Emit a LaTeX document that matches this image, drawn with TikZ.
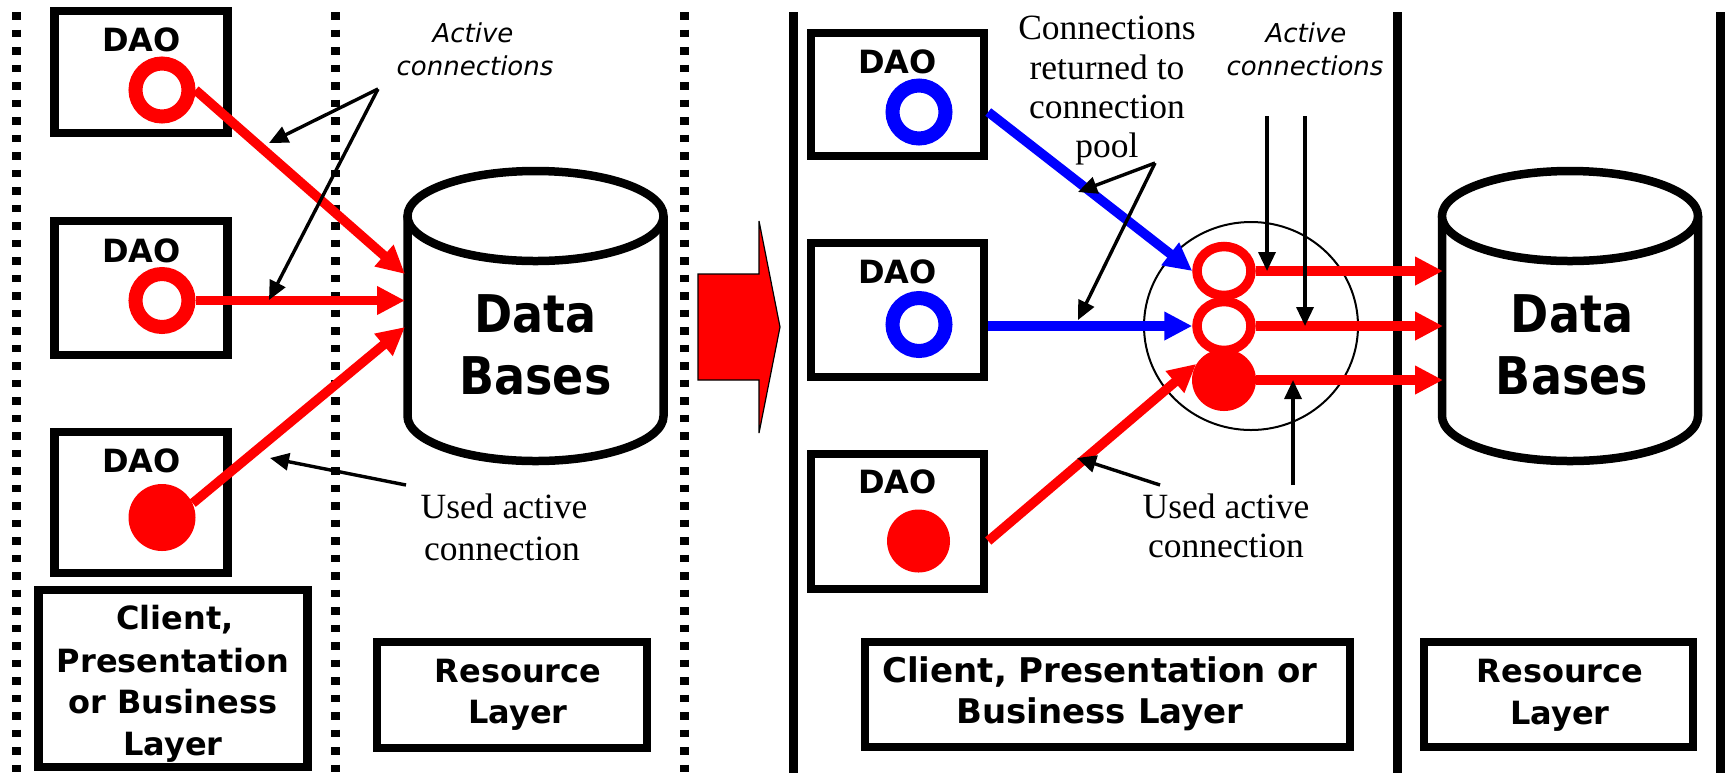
\documentclass[tikz,border=0pt]{standalone}
\usepackage{graphicx}
\usepackage{fontspec}
\setmainfont{Liberation Serif}
\newfontfamily\verdfont{DejaVu Sans}
\usetikzlibrary{arrows.meta,shapes.geometric}

\tikzset{
  dotline/.style={line width=4.5pt, dash pattern=on 3.75pt off 5pt},
  layerline/.style={line width=4.5pt},
  daobox/.style={draw, line width=4.25pt, minimum width=86.5pt, inner sep=0pt},
  lblbox/.style={draw, line width=4.25pt, inner sep=0pt},
  daolbl/.style={font=\verdfont\bfseries\fontsize{16pt}{20pt}\selectfont, inner sep=0pt, anchor=base},
  bigdaolbl/.style={font=\verdfont\bfseries\fontsize{17pt}{20pt}\selectfont, inner sep=0pt, anchor=base},
  dblbl/.style={font=\verdfont\bfseries\fontsize{23pt}{28pt}\selectfont, inner sep=0pt, anchor=base},
  actlbl/.style={font=\verdfont\itshape\fontsize{13pt}{16pt}\selectfont, inner sep=0pt, anchor=base},
  serlbl/.style={font=\fontsize{17.75pt}{20pt}\selectfont, inner sep=0pt, anchor=base},
  ring/.style={circle, draw, fill=white, line width=7pt, minimum size=26.5pt, inner sep=0pt},
  bigdot/.style={circle, inner sep=0pt},
  poolring/.style={ellipse, draw=red, fill=white, line width=4.75pt, minimum width=27pt, minimum height=24.5pt, inner sep=0pt},
  cyl/.style={line width=4.25pt, fill=white},
  conn/.style={line width=4.75pt, -{Triangle[length=14pt,width=13.5pt]}},
  note/.style={line width=1.7pt, -{Triangle[length=9.5pt,width=8.5pt]}},
  blockarrow/.style={fill=red, draw=black, line width=0.6pt},
}

\begin{document}
\begin{tikzpicture}[x=0.5pt,y=-0.5pt]
\useasboundingbox (0,0) rectangle (1729,773);

% layer separators
\draw[dotline] (16,12) -- (16,773);
\draw[dotline] (335,12) -- (335,773);
\draw[dotline] (684,12) -- (684,773);
\draw[layerline] (793,12) -- (793,773);
\draw[layerline] (1397,12) -- (1397,773);
\draw[layerline] (1720,12) -- (1720,773);

% ---------- direct connections ----------
\node[daobox, minimum height=61pt] (la) at (141,72) {};
\node[daobox, minimum height=67pt] (lb) at (141,288) {};
\node[daobox, minimum height=70.5pt] (lc) at (141,502.5) {};
\node[daolbl] (lat) at (141.5,51) {DAO};
\node[daolbl] (lbt) at (141.5,262) {DAO};
\node[daolbl] (lct) at (141.5,472) {DAO};

% left data base cylinder
\draw[cyl] (407.5,216) -- (407.5,416) arc[start angle=180, end angle=360, x radius=64pt, y radius=22.5pt] -- (663.5,216);
\draw[cyl] (535.5,216) ellipse [x radius=64pt, y radius=22.5pt];
\node[dblbl] (ldata) at (535.5,332) {\scalebox{1}[1.13]{Data}};
\node[dblbl] (lbases) at (535.5,394) {\scalebox{1}[1.13]{Bases}};
\coordinate (lin1) at (405,274);
\coordinate (lin2) at (405,300.5);
\coordinate (lin3) at (405,327);

\node[ring, draw=red] (lra) at (162,90) {};
\node[ring, draw=red] (lrb) at (162,300.5) {};
\node[bigdot, fill=red, minimum size=33.5pt] (lrc) at (162,517.5) {};

\draw[conn, red] (lra.east) -- (lin1);
\draw[conn, red] (lrb.east) -- (lin2);
\draw[conn, red] (lrc.25) -- (lin3);

% annotations
\node[actlbl] (lact1) at (473,42) {Active};
\node[actlbl] (lact2) at (475,75) {connections};
\coordinate (lapex) at (378,89);
\coordinate (lp1) at (269,143);
\coordinate (lp2) at (269,300);
\draw[note] (lapex) -- (lp1);
\draw[note] (lapex) -- (lp2);
\coordinate (lu0) at (406,485);
\coordinate (lu1) at (270,458);
\draw[note] (lu0) -- (lu1);
\node[serlbl] (lused1) at (504,518) {Used active};
\node[serlbl] (lused2) at (502,560) {connection};

% layer captions
\node[lblbox, minimum width=134.5pt, minimum height=88.5pt] (lclient) at (173,678.5) {};
\node[daolbl] (lcl1) at (175,629) {Client,};
\node[daolbl] (lcl2) at (173,672) {Presentation};
\node[daolbl] (lcl3) at (173,713) {or Business};
\node[daolbl] (lcl4) at (173,755) {Layer};
\node[lblbox, minimum width=135pt, minimum height=53pt] (lres) at (512,695) {};
\node[daolbl] (lres1) at (518,682) {Resource};
\node[daolbl] (lres2) at (518,723) {Layer};

% transition arrow
\draw[blockarrow] (698,274) -- (759,274) -- (759,221) -- (780,327) -- (759,433) -- (759,380) -- (698,380) -- cycle;

% ---------- pooled connections ----------
\node[daobox, minimum height=61.5pt] (ra) at (897.5,94.5) {};
\node[daobox, minimum height=67pt] (rb) at (897.5,310) {};
\node[daobox, minimum height=67.5pt] (rc) at (897.5,521.5) {};
\node[daolbl] (rat) at (897.5,73) {DAO};
\node[daolbl] (rbt) at (897.5,283) {DAO};
\node[daolbl] (rct) at (897.5,493) {DAO};

\node[ring, draw=blue] (rra) at (919,112) {};
\node[ring, draw=blue] (rrb) at (919,324.5) {};
\node[bigdot, fill=red, minimum size=31.5pt] (rrc) at (918.5,541) {};

% connection pool
\node[ellipse, draw, line width=1pt, minimum width=107pt, minimum height=104pt] (pool) at (1251,326) {};

% right data base cylinder
\draw[cyl] (1442,216) -- (1442,416) arc[start angle=180, end angle=360, x radius=64pt, y radius=22.5pt] -- (1698,216);
\draw[cyl] (1570,216) ellipse [x radius=64pt, y radius=22.5pt];
\node[dblbl] (rdata) at (1572,332) {\scalebox{1}[1.13]{Data}};
\node[dblbl] (rbases) at (1572,394) {\scalebox{1}[1.13]{Bases}};
\coordinate (rin) at (1443,326);

\node[ellipse, fill=red, inner sep=0pt, minimum width=32pt, minimum height=31pt] (pc) at (1224,380) {};
\node[poolring] (pb) at (1224,326) {};
\node[poolring] (pa) at (1224,271) {};

\draw[conn, blue] (ra.east |- rra) -- (pa.west);
\draw[conn, blue] (rb.east |- pb.west) -- (pb.west);
\draw[conn, red] (rc.east |- rrc) -- (pc.150);

\draw[conn, red] (pa.east) -- (pa.east -| rin);
\draw[conn, red] (pb.east) -- (pb.east -| rin);
\draw[conn, red] (pc.east) -- (pc.east -| rin);

% annotations
\node[serlbl] (rret1) at (1107,39) {Connections};
\node[serlbl] (rret2) at (1107,79) {returned to};
\node[serlbl] (rret3) at (1107,118) {connection};
\node[serlbl] (rret4) at (1107,157) {pool};
\coordinate (rapex) at (1155,163);
\coordinate (rp1) at (1078,192);
\coordinate (rp2) at (1078,320);
\draw[note] (rapex) -- (rp1);
\draw[note] (rapex) -- (rp2);

\node[actlbl] (ract1) at (1306,42) {Active};
\node[actlbl] (ract2) at (1305,75) {connections};
\coordinate (rac1) at (1267,116);
\coordinate (rac2) at (1305,116);
\draw[note] (rac1) -- (rac1 |- pa.east);
\draw[note] (rac2) -- (rac2 |- pb.east);
\coordinate (ruv) at (1293,485);
\draw[note] (ruv) -- (ruv |- pc.east);
\coordinate (ru0) at (1160,485);
\coordinate (ru1) at (1077,458);
\draw[note] (ru0) -- (ru1);
\node[serlbl] (rused1) at (1226,518) {Used active};
\node[serlbl] (rused2) at (1226,557) {connection};

% layer captions
\node[lblbox, minimum width=242.5pt, minimum height=52.5pt] (rclient) at (1107.5,694.5) {};
\node[bigdaolbl] (rcl1) at (1100,682) {Client, Presentation or};
\node[bigdaolbl] (rcl2) at (1100,723) {Business Layer};
\node[lblbox, minimum width=134.5pt, minimum height=52.5pt] (rres) at (1558.5,694.5) {};
\node[daolbl] (rres1) at (1560,682) {Resource};
\node[daolbl] (rres2) at (1560,724) {Layer};
\end{tikzpicture}
\end{document}
